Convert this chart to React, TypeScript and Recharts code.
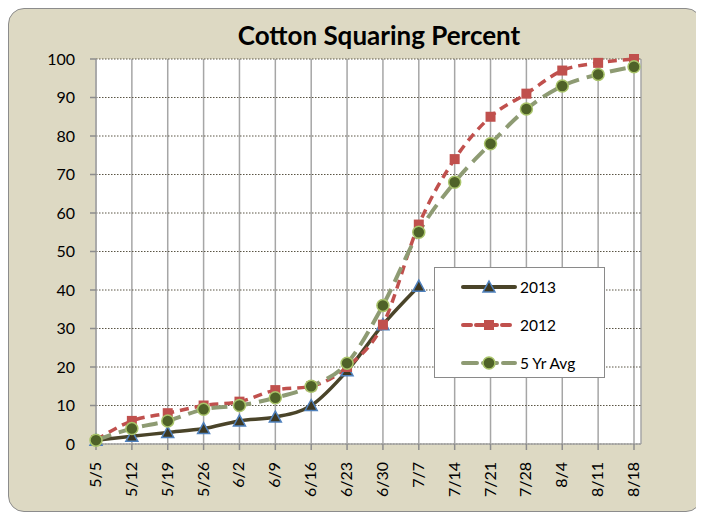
import { LineChart, Line, XAxis, YAxis, CartesianGrid, Legend } from 'recharts';

const weeks = ['5/5', '5/12', '5/19', '5/26', '6/2', '6/9', '6/16', '6/23', '6/30', '7/7', '7/14', '7/21', '7/28', '8/4', '8/11', '8/18'];
const y2013 = [1, 2, 3, 4, 6, 7, 10, 19, 31, 41];
const y2012 = [1, 6, 8, 10, 11, 14, 15, 20, 31, 57, 74, 85, 91, 97, 99, 100];
const avg5 = [1, 4, 6, 9, 10, 12, 15, 21, 36, 55, 68, 78, 87, 93, 96, 98];
const yTicks = [0, 10, 20, 30, 40, 50, 60, 70, 80, 90, 100];

const data = weeks.map((w, i) => ({
  week: w,
  y2013: i < y2013.length ? y2013[i] : null,
  y2012: y2012[i],
  avg: avg5[i],
}));

const FONT = 'Lato, "Open Sans", sans-serif';

const Triangle = (props: any) => {
  const { cx, cy, key } = props;
  if (cx == null || cy == null) return null;
  return (
    <path key={key} d={`M${cx},${cy - 6} L${cx + 6},${cy + 5} L${cx - 6},${cy + 5} Z`} fill="#3d3822" stroke="#4f81bd" strokeWidth={1.5} />
  );
};

const Square = (props: any) => {
  const { cx, cy, key } = props;
  if (cx == null || cy == null) return null;
  return <rect key={key} x={cx - 5} y={cy - 5} width={10} height={10} fill="#c0504d" />;
};

const Circle = (props: any) => {
  const { cx, cy, key } = props;
  if (cx == null || cy == null) return null;
  return <circle key={key} cx={cx} cy={cy} r={6} fill="#4f6228" stroke="#a9c46a" strokeWidth={1.5} />;
};

const legendItems = [
  { label: '2013', color: '#4a4429', dash: undefined, marker: 'tri' },
  { label: '2012', color: '#c0504d', dash: '8 5', marker: 'sq' },
  { label: '5 Yr Avg', color: '#8e9b73', dash: '14 6', marker: 'ci' },
];

// zero-size wrapper so the legend takes no room from the plot
const LegendBox = () => (
  <div style={{ position: 'relative', width: 0, height: 0 }}>
    <div style={{ position: 'absolute', left: 0, top: 0, width: 171, height: 111, background: '#fff', border: '1px solid #8a8a8a', boxSizing: 'border-box', fontFamily: FONT, fontSize: 15.5, color: '#000' }}>
      {legendItems.map((it, i) => (
        <div key={it.label} style={{ position: 'absolute', left: 0, top: 8 + i * 38, display: 'flex', alignItems: 'center', height: 22 }}>
          <svg width={82} height={22}>
            <line x1={28} y1={11} x2={80} y2={11} stroke={it.color} strokeWidth={4} strokeDasharray={it.dash} strokeLinecap="round" />
            {it.marker === 'tri' && <Triangle cx={54} cy={11} />}
            {it.marker === 'sq' && <Square cx={54} cy={11} />}
            {it.marker === 'ci' && <Circle cx={54} cy={11} />}
          </svg>
          <span style={{ marginLeft: 3, whiteSpace: 'nowrap' }}>{it.label}</span>
        </div>
      ))}
    </div>
  </div>
);

const XTick = (props: any) => {
  const { x, y, payload } = props;
  return (
    <text x={x + 5} y={y + 10} transform={`rotate(-90 ${x + 5} ${y + 10})`} textAnchor="end" fontFamily={FONT} fontSize={16} fill="#000">
      {payload.value}
    </text>
  );
};

export default function App() {
  return (
    <div style={{ position: 'relative', width: 694, height: 504, background: '#ddd9c3', border: '1px solid #8c8c8c', borderRadius: 16, boxSizing: 'border-box' }}>
      <div style={{ position: 'absolute', left: 0, width: 740, top: 10, textAlign: 'center', fontFamily: FONT, fontWeight: 'bold', fontSize: 26, color: '#000' }}>
        Cotton Squaring Percent
      </div>
      <LineChart width={690} height={502} data={data} margin={{ top: 50, right: 58, left: 27, bottom: 5 }}>
        <CartesianGrid horizontal={false} stroke="#a6a6a6" strokeWidth={1.5} fill="#fff" />
        <CartesianGrid vertical={false} stroke="#5a5545" strokeDasharray="1.5 1.5" />
        <XAxis dataKey="week" height={62} tick={<XTick />} tickLine={{ stroke: '#8c8c8c', strokeWidth: 1.5 }} tickSize={6} axisLine={{ stroke: '#a6a6a6', strokeWidth: 1.5 }} interval={0} padding={{ left: 0, right: 7 }} />
        <YAxis domain={[0, 100]} ticks={yTicks} width={60} tick={{ fontFamily: FONT, fontSize: 16, fill: '#000' }} tickLine={{ stroke: '#8c8c8c', strokeWidth: 1.5 }} tickSize={6} tickMargin={15} axisLine={{ stroke: '#a6a6a6', strokeWidth: 1.5 }} />
        <Line dataKey="y2013" name="2013" type="monotone" stroke="#4a4429" strokeWidth={3.5} dot={<Triangle />} isAnimationActive={false} connectNulls={false} />
        <Line dataKey="y2012" name="2012" type="monotone" stroke="#c0504d" strokeWidth={3.5} strokeDasharray="9 6" dot={<Square />} isAnimationActive={false} />
        <Line dataKey="avg" name="5 Yr Avg" type="monotone" stroke="#8e9b73" strokeWidth={4} strokeDasharray="16 8" dot={<Circle />} isAnimationActive={false} />
        <Legend content={<LegendBox />} wrapperStyle={{ position: 'absolute', left: 425, top: 258, width: 0, height: 0 }} />
      </LineChart>
    </div>
  );
}
